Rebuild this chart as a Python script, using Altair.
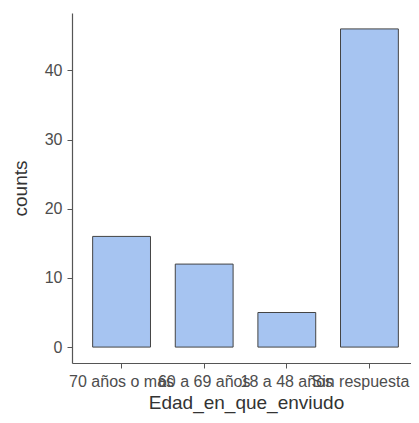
import altair as alt
import pandas as pd

categories = ["70 años o más", "60 a 69 años", "18 a 48 años", "Sin respuesta"]
counts = [16, 12, 5, 46]

df = pd.DataFrame({"Edad_en_que_enviudo": categories, "counts": counts})

FONT = "Liberation Sans"

chart = (
    alt.Chart(df)
    .mark_bar(fill="#a6c4f1", stroke="#444444", strokeWidth=1)
    .encode(
        x=alt.X(
            "Edad_en_que_enviudo:N",
            sort=None,
            scale=alt.Scale(paddingInner=0.3, paddingOuter=0.25, range=[0, 347]),
            axis=alt.Axis(
                title="Edad_en_que_enviudo",
                labelAngle=0,
                labelOverlap=False,
                labelLimit=0,
                labelFontSize=16,
                labelFont=FONT,
                labelColor="#4d4d4d",
                labelPadding=5,
                labelOffset={
                    "condition": {"test": "datum.value === 'Sin respuesta'", "value": -9},
                    "value": 0,
                },
                tickSize=5,
                tickColor="#555555",
                domainColor="#555555",
                domainWidth=1.2,
                titleFontSize=19,
                titleFont=FONT,
                titleFontWeight="normal",
                titleColor="#333333",
                titleBaseline="alphabetic",
                titleY=45,
                titleX=174,
            ),
        ),
        y=alt.Y(
            "counts:Q",
            scale=alt.Scale(domain=[-2.3, 48.3], nice=False, zero=False),
            axis=alt.Axis(
                title="counts",
                values=[0, 10, 20, 30, 40],
                grid=False,
                labelFontSize=16,
                labelFont=FONT,
                labelColor="#4d4d4d",
                labelPadding=5,
                tickSize=5,
                tickColor="#555555",
                domainColor="#555555",
                domainWidth=1.2,
                titleFontSize=19,
                titleFont=FONT,
                titleFontWeight="normal",
                titleColor="#333333",
                titleAngle=270,
                titleAlign="center",
                titleBaseline="middle",
                titleX=-52,
                titleY=175,
            ),
        ),
        y2=alt.datum(0),
    )
    .properties(
        width=339,
        height=350,
        autosize=alt.AutoSizeParams(type="none"),
        padding={"left": 64, "top": 5, "right": 0, "bottom": 51},
    )
    .configure_view(stroke=None)
)

chart.save("out.html", embed_options={"renderer": "svg", "actions": False})
